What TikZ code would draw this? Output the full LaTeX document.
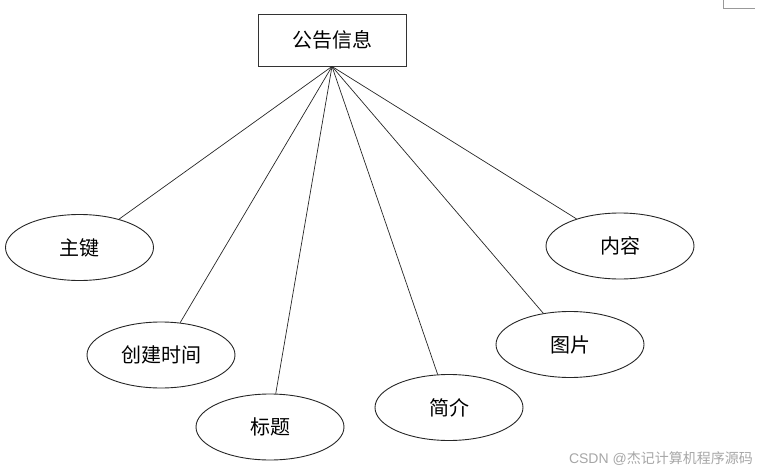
\documentclass[tikz,border=0pt]{standalone}
\usepackage{fontspec}
\setmainfont{Liberation Sans}
\newfontfamily\cjk{Noto Sans CJK SC}
\usetikzlibrary{shapes.geometric}
\begin{document}
\begin{tikzpicture}[x=1pt,y=-1pt,
  entbox/.style={draw=black!80,line width=0.9pt,minimum width=148pt,minimum height=52pt,inner sep=0pt,font=\cjk\fontsize{20}{22}\selectfont},
  attr/.style={ellipse,draw=black!85,line width=0.9pt,minimum width=148pt,minimum height=66pt,inner sep=0pt,font=\cjk\fontsize{20}{22}\selectfont},
  link/.style={draw=black!85,line width=0.7pt}]
\useasboundingbox (0,0) rectangle (760,474);
\node[entbox] (e) at (332,40) {公告信息};
\node[attr] (a1) at (79.5,247.5) {主键};
\node[attr] (a2) at (161,355) {创建时间};
\node[attr] (a3) at (270,427) {标题};
\node[attr] (a4) at (449,407.5) {简介};
\node[attr] (a5) at (570,344.5) {图片};
\node[attr] (a6) at (620,246) {内容};
\coordinate (top) at (e.south);
\foreach \t in {a1,a2,a3,a4,a5,a6} \draw[link] (top) -- (\t);
\draw[black!40,line width=0.8pt] (723,0) -- (723,8) -- (755,8);
\node[anchor=east,text=black!35,inner sep=0pt,font=\fontsize{14}{16}\selectfont] (wm) at (753,459) {CSDN @{\cjk 杰记计算机程序源码}};
\end{tikzpicture}
\end{document}
